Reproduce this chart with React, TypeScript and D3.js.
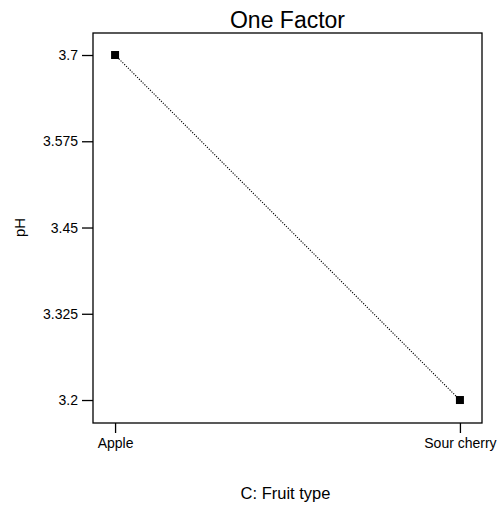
import * as d3 from "d3";
import { useRef, useEffect } from "react";

// factor levels and mean response
const fruitTypes = ["Apple", "Sour cherry"];
const phValues = [3.7, 3.2];
const yTickValues = [3.2, 3.325, 3.45, 3.575, 3.7];
const yTickLabels = ["3.2", "3.325", "3.45", "3.575", "3.7"];

const FONT = "'Liberation Sans', Arial, sans-serif";

const OneFactorChart = ({
  width = 497,
  height = 506,
  marginTop = 33,
  marginRight = 15,
  marginBottom = 83,
  marginLeft = 93,
}) => {
  const svgRef = useRef<SVGSVGElement | null>(null);

  useEffect(() => {
    if (!svgRef.current) return;
    const svg = d3.select(svgRef.current);
    svg.selectAll("*").remove();

    const data = fruitTypes.map((f, i) => ({ fruit: f, ph: phValues[i] }));

    const x = d3
      .scalePoint()
      .domain(fruitTypes)
      .range([marginLeft, width - marginRight])
      .padding(0.064);

    const y = d3
      .scaleLinear()
      .domain([3.1667, 3.7319])
      .range([height - marginBottom, marginTop]);

    // title
    svg
      .append("text")
      .attr("x", (marginLeft + width - marginRight) / 2)
      .attr("y", 28)
      .attr("text-anchor", "middle")
      .attr("font-family", FONT)
      .attr("font-size", 23)
      .text("One Factor");

    // plot frame
    svg
      .append("rect")
      .attr("x", marginLeft)
      .attr("y", marginTop)
      .attr("width", width - marginRight - marginLeft)
      .attr("height", height - marginBottom - marginTop)
      .attr("fill", "none")
      .attr("stroke", "#000")
      .attr("stroke-width", 1.3);

    // y axis
    const yAxis = svg
      .append("g")
      .attr("transform", `translate(${marginLeft},0)`)
      .call(
        d3
          .axisLeft(y)
          .tickValues(yTickValues)
          .tickSize(11)
          .tickPadding(4)
          .tickFormat((d, i) => yTickLabels[i])
      );
    yAxis.select(".domain").remove();
    yAxis.selectAll("line").attr("stroke-width", 1.3);
    yAxis.selectAll("text").attr("font-family", FONT).attr("font-size", 14).attr("fill", "#000");

    // x axis
    const xAxis = svg
      .append("g")
      .attr("transform", `translate(0,${height - marginBottom})`)
      .call(d3.axisBottom(x).tickSize(10).tickPadding(5));
    xAxis.select(".domain").remove();
    xAxis.selectAll("line").attr("stroke-width", 1.3);
    xAxis.selectAll("text").attr("font-family", FONT).attr("font-size", 14).attr("fill", "#000");

    // axis titles
    svg
      .append("text")
      .attr("x", (marginLeft + width - marginRight) / 2 - 2)
      .attr("y", 499)
      .attr("text-anchor", "middle")
      .attr("font-family", FONT)
      .attr("font-size", 16.5)
      .text("C: Fruit type");

    svg
      .append("text")
      .attr("transform", `translate(25,${y(3.45)}) rotate(-90)`)
      .attr("text-anchor", "middle")
      .attr("font-family", FONT)
      .attr("font-size", 15)
      .text("pH");

    // dotted connecting line
    const line = d3
      .line<{ fruit: string; ph: number }>()
      .x((d) => x(d.fruit)!)
      .y((d) => y(d.ph));

    svg
      .append("path")
      .datum(data)
      .attr("fill", "none")
      .attr("stroke", "#000")
      .attr("stroke-width", 1.1)
      .attr("stroke-dasharray", "1.2,1.4")
      .attr("d", line);

    // points
    svg
      .selectAll(".pt")
      .data(data)
      .join("rect")
      .attr("x", (d) => x(d.fruit)! - 4)
      .attr("y", (d) => y(d.ph) - 4)
      .attr("width", 8)
      .attr("height", 8)
      .attr("fill", "#000");
  }, [width, height, marginTop, marginRight, marginBottom, marginLeft]);

  return (
    <svg
      ref={svgRef}
      width={width}
      height={height}
      style={{ position: "absolute", left: 0, top: 0, background: "#fff" }}
    ></svg>
  );
};

export default function App() {
  return <OneFactorChart />;
}
